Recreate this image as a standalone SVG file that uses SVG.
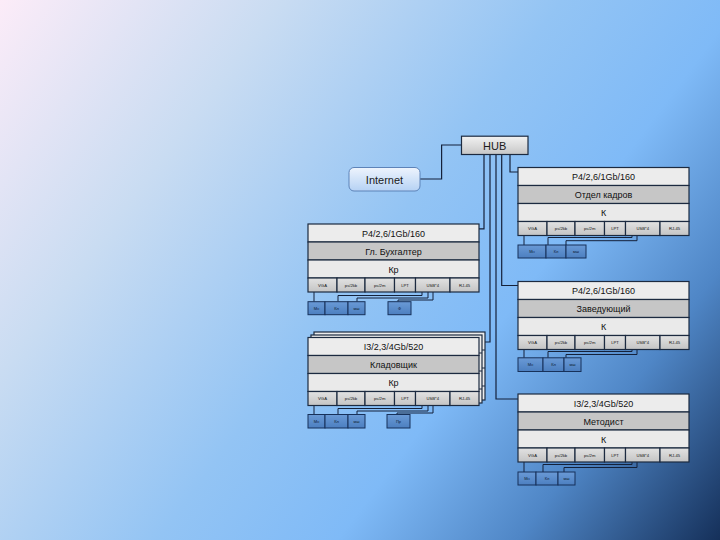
<svg xmlns="http://www.w3.org/2000/svg" width="720" height="540" viewBox="0 0 720 540">
<defs>
<linearGradient id="bg" x1="0" y1="0" x2="720" y2="540" gradientUnits="userSpaceOnUse">
<stop offset="0" stop-color="#fcecf8"/>
<stop offset="0.25" stop-color="#c9dcf2"/>
<stop offset="0.5" stop-color="#93c4f4"/>
<stop offset="0.66" stop-color="#7fbaf7"/>
<stop offset="0.82" stop-color="#4f86c6"/>
<stop offset="1" stop-color="#15305a"/>
</linearGradient>
<linearGradient id="gInet" x1="0" y1="0" x2="0" y2="1">
<stop offset="0" stop-color="#eef4fd"/>
<stop offset="1" stop-color="#b6d2f4"/>
</linearGradient>
<linearGradient id="gHub" x1="0" y1="0" x2="0" y2="1">
<stop offset="0" stop-color="#f2f2f2"/>
<stop offset="1" stop-color="#c6c6c6"/>
</linearGradient>
<linearGradient id="gPort" x1="0" y1="0" x2="0" y2="1">
<stop offset="0" stop-color="#e2e2e2"/>
<stop offset="1" stop-color="#c4c4c4"/>
</linearGradient>
<linearGradient id="gDev" x1="0" y1="0" x2="0" y2="1">
<stop offset="0" stop-color="#6a9ad6"/>
<stop offset="1" stop-color="#4c7fc0"/>
</linearGradient>
</defs>
<style>
.b{stroke:#1c2a40;stroke-width:1.2}
.r1{fill:#ececec}
.r2{fill:#c6c6c6}
.r3{fill:#eaeaea}
.pt{fill:url(#gPort)}
.dv{fill:url(#gDev);stroke:#17315a;stroke-width:1}
.bk{fill:#ececec;stroke:#1c2a40;stroke-width:1.2}
.t{font-family:"Liberation Sans",Arial,sans-serif;font-size:9px;fill:#111;text-anchor:middle}
.tl{font-family:"Liberation Sans",Arial,sans-serif;font-size:11px;fill:#1a1a1a;text-anchor:middle}
.tp{font-family:"Liberation Sans",Arial,sans-serif;font-size:4.2px;fill:#111;text-anchor:middle}
.td{font-family:"Liberation Sans",Arial,sans-serif;font-size:4px;fill:#0b1a30;text-anchor:middle}
.c{fill:none;stroke:#14213a;stroke-width:1.2}
.cs{fill:none;stroke:#14213a;stroke-width:1}
</style>
<rect x="0" y="0" width="720" height="540" fill="url(#bg)"/>

<g id="connectors">
<polyline class="c" points="461.5,145 441.6,145 441.6,179 420,179"/>
<polyline class="c" points="484,154.5 484,228.8 479,228.8"/>
<polyline class="c" points="490,154.5 490,342 485,342"/>
<polyline class="c" points="496,154.5 496,399 518,399"/>
<polyline class="c" points="501.7,154.5 501.7,285.5 518,285.5"/>
<polyline class="c" points="510,154.5 510,172 518,172"/>
<!-- Отдел кадров devices -->
<polyline class="cs" points="524,235.5 524,245"/>
<polyline class="cs" points="632,235.5 632,237.5 548,237.5 548,245"/>
<polyline class="cs" points="637,235.5 637,240.7 566,240.7 566,245"/>
<!-- Гл. Бухгалтер devices -->
<polyline class="cs" points="314,292 314,301.7"/>
<polyline class="cs" points="422,292 422,295.5 338,295.5 338,301.7"/>
<polyline class="cs" points="428,292 428,298 357,298 357,301.7"/>
<polyline class="cs" points="433,292 433,300 398,300 398,301.7"/>
<!-- Кладовщик devices -->
<polyline class="cs" points="314,405.5 314,414.5"/>
<polyline class="cs" points="422,405.5 422,408.5 338,408.5 338,414.5"/>
<polyline class="cs" points="428,405.5 428,411 357,411 357,414.5"/>
<polyline class="cs" points="433,405.5 433,413 397,413 397,414.5"/>
<!-- Заведующий devices -->
<polyline class="cs" points="524,349.5 524,357.8"/>
<polyline class="cs" points="632,349.5 632,351.5 548,351.5 548,357.8"/>
<polyline class="cs" points="637,349.5 637,354.5 566,354.5 566,357.8"/>
<!-- Методист devices -->
<polyline class="cs" points="524,462 524,472"/>
<polyline class="cs" points="632,462 632,464.5 543,464.5 543,472"/>
<polyline class="cs" points="637,462 637,467.5 564,467.5 564,472"/>
</g>

<g id="internet">
<rect x="349" y="167.5" width="71" height="23.5" rx="5" fill="url(#gInet)" stroke="#5d83b8" stroke-width="1"/>
<text class="tl" x="384.5" y="183.5">Internet</text>
</g>

<g id="hub">
<rect class="b" x="461.5" y="136.2" width="66.5" height="18.3" fill="url(#gHub)"/>
<text class="tl" x="494.7" y="149.5">HUB</text>
</g>

<g id="node-otdel-kadrov" transform="translate(518,167.5)">
<rect class="b r1" x="0" y="0" width="171" height="18"/>
<rect class="b r2" x="0" y="18" width="171" height="18"/>
<rect class="b r3" x="0" y="36" width="171" height="18"/>
<rect class="b pt" x="0" y="54" width="29" height="14"/>
<rect class="b pt" x="29" y="54" width="28" height="14"/>
<rect class="b pt" x="57" y="54" width="29.5" height="14"/>
<rect class="b pt" x="86.5" y="54" width="21" height="14"/>
<rect class="b pt" x="107.5" y="54" width="34.5" height="14"/>
<rect class="b pt" x="142" y="54" width="29" height="14"/>
<text class="t" x="85.5" y="12.5">P4/2,6/1Gb/160</text>
<text class="t" x="85.5" y="30.5">Отдел кадров</text>
<text class="t" x="85.5" y="48.5">К</text>
<text class="tp" x="14.5" y="62.5">VGA</text>
<text class="tp" x="43" y="62.5">ps/2kb</text>
<text class="tp" x="71.7" y="62.5">ps/2m</text>
<text class="tp" x="97" y="62.5">LPT</text>
<text class="tp" x="124.7" y="62.5">USB*4</text>
<text class="tp" x="156.5" y="62.5">RJ-45</text>
<rect class="dv" x="0" y="77.5" width="28" height="13"/>
<rect class="dv" x="28" y="77.5" width="20" height="13"/>
<rect class="dv" x="48" y="77.5" width="20" height="13"/>
<text class="td" x="14" y="85.5">Мн</text>
<text class="td" x="38" y="85.5">Кл</text>
<text class="td" x="58" y="85.5">мш</text>
</g>

<g id="node-gl-buhgalter" transform="translate(308,224)">
<rect class="b r1" x="0" y="0" width="171" height="18"/>
<rect class="b r2" x="0" y="18" width="171" height="18"/>
<rect class="b r3" x="0" y="36" width="171" height="18"/>
<rect class="b pt" x="0" y="54" width="29" height="14"/>
<rect class="b pt" x="29" y="54" width="28" height="14"/>
<rect class="b pt" x="57" y="54" width="29.5" height="14"/>
<rect class="b pt" x="86.5" y="54" width="21" height="14"/>
<rect class="b pt" x="107.5" y="54" width="34.5" height="14"/>
<rect class="b pt" x="142" y="54" width="29" height="14"/>
<text class="t" x="85.5" y="12.5">P4/2,6/1Gb/160</text>
<text class="t" x="85.5" y="30.5">Гл. Бухгалтер</text>
<text class="t" x="85.5" y="48.5">Кр</text>
<text class="tp" x="14.5" y="62.5">VGA</text>
<text class="tp" x="43" y="62.5">ps/2kb</text>
<text class="tp" x="71.7" y="62.5">ps/2m</text>
<text class="tp" x="97" y="62.5">LPT</text>
<text class="tp" x="124.7" y="62.5">USB*4</text>
<text class="tp" x="156.5" y="62.5">RJ-45</text>
<rect class="dv" x="0" y="77.7" width="17" height="13"/>
<rect class="dv" x="17" y="77.7" width="23" height="13"/>
<rect class="dv" x="40" y="77.7" width="17" height="13"/>
<rect class="dv" x="80" y="77.7" width="23" height="13"/>
<text class="td" x="8.5" y="85.7">Мн</text>
<text class="td" x="28.5" y="85.7">Кл</text>
<text class="td" x="48.5" y="85.7">мш</text>
<text class="td" x="91.5" y="85.7">Ф</text>
</g>

<g id="node-kladovshik">
<g transform="translate(314,332)">
<rect class="bk" x="0" y="0" width="171" height="68"/>
<line class="b" x1="0" y1="18" x2="171" y2="18"/>
<line class="b" x1="0" y1="36" x2="171" y2="36"/>
<line class="b" x1="0" y1="54" x2="171" y2="54"/>
</g>
<g transform="translate(311,335)">
<rect class="bk" x="0" y="0" width="171" height="68"/>
<line class="b" x1="0" y1="18" x2="171" y2="18"/>
<line class="b" x1="0" y1="36" x2="171" y2="36"/>
<line class="b" x1="0" y1="54" x2="171" y2="54"/>
</g>
<g transform="translate(308,337.5)">
<rect class="b r1" x="0" y="0" width="171" height="18"/>
<rect class="b r2" x="0" y="18" width="171" height="18"/>
<rect class="b r3" x="0" y="36" width="171" height="18"/>
<rect class="b pt" x="0" y="54" width="29" height="14"/>
<rect class="b pt" x="29" y="54" width="28" height="14"/>
<rect class="b pt" x="57" y="54" width="29.5" height="14"/>
<rect class="b pt" x="86.5" y="54" width="21" height="14"/>
<rect class="b pt" x="107.5" y="54" width="34.5" height="14"/>
<rect class="b pt" x="142" y="54" width="29" height="14"/>
<text class="t" x="85.5" y="12.5">I3/2,3/4Gb/520</text>
<text class="t" x="85.5" y="30.5">Кладовщик</text>
<text class="t" x="85.5" y="48.5">Кр</text>
<text class="tp" x="14.5" y="62.5">VGA</text>
<text class="tp" x="43" y="62.5">ps/2kb</text>
<text class="tp" x="71.7" y="62.5">ps/2m</text>
<text class="tp" x="97" y="62.5">LPT</text>
<text class="tp" x="124.7" y="62.5">USB*4</text>
<text class="tp" x="156.5" y="62.5">RJ-45</text>
<rect class="dv" x="0" y="77" width="17" height="13.5"/>
<rect class="dv" x="17" y="77" width="23" height="13.5"/>
<rect class="dv" x="40" y="77" width="17" height="13.5"/>
<rect class="dv" x="79" y="77" width="23" height="13.5"/>
<text class="td" x="8.5" y="85.2">Мн</text>
<text class="td" x="28.5" y="85.2">Кл</text>
<text class="td" x="48.5" y="85.2">мш</text>
<text class="td" x="90.5" y="85.2">Пр</text>
</g>
</g>

<g id="node-zaveduyushiy" transform="translate(518,281.5)">
<rect class="b r1" x="0" y="0" width="171" height="18"/>
<rect class="b r2" x="0" y="18" width="171" height="18"/>
<rect class="b r3" x="0" y="36" width="171" height="18"/>
<rect class="b pt" x="0" y="54" width="29" height="14"/>
<rect class="b pt" x="29" y="54" width="28" height="14"/>
<rect class="b pt" x="57" y="54" width="29.5" height="14"/>
<rect class="b pt" x="86.5" y="54" width="21" height="14"/>
<rect class="b pt" x="107.5" y="54" width="34.5" height="14"/>
<rect class="b pt" x="142" y="54" width="29" height="14"/>
<text class="t" x="85.5" y="12.5">P4/2,6/1Gb/160</text>
<text class="t" x="85.5" y="30.5">Заведующий</text>
<text class="t" x="85.5" y="48.5">К</text>
<text class="tp" x="14.5" y="62.5">VGA</text>
<text class="tp" x="43" y="62.5">ps/2kb</text>
<text class="tp" x="71.7" y="62.5">ps/2m</text>
<text class="tp" x="97" y="62.5">LPT</text>
<text class="tp" x="124.7" y="62.5">USB*4</text>
<text class="tp" x="156.5" y="62.5">RJ-45</text>
<rect class="dv" x="0" y="76.3" width="25" height="13.7"/>
<rect class="dv" x="25" y="76.3" width="21" height="13.7"/>
<rect class="dv" x="46" y="76.3" width="17" height="13.7"/>
<text class="td" x="12.5" y="84.6">Мн</text>
<text class="td" x="35.5" y="84.6">Кл</text>
<text class="td" x="54.5" y="84.6">мш</text>
</g>

<g id="node-metodist" transform="translate(518,394)">
<rect class="b r1" x="0" y="0" width="171" height="18"/>
<rect class="b r2" x="0" y="18" width="171" height="18"/>
<rect class="b r3" x="0" y="36" width="171" height="18"/>
<rect class="b pt" x="0" y="54" width="29" height="14"/>
<rect class="b pt" x="29" y="54" width="28" height="14"/>
<rect class="b pt" x="57" y="54" width="29.5" height="14"/>
<rect class="b pt" x="86.5" y="54" width="21" height="14"/>
<rect class="b pt" x="107.5" y="54" width="34.5" height="14"/>
<rect class="b pt" x="142" y="54" width="29" height="14"/>
<text class="t" x="85.5" y="12.5">I3/2,3/4Gb/520</text>
<text class="t" x="85.5" y="30.5">Методист</text>
<text class="t" x="85.5" y="48.5">К</text>
<text class="tp" x="14.5" y="62.5">VGA</text>
<text class="tp" x="43" y="62.5">ps/2kb</text>
<text class="tp" x="71.7" y="62.5">ps/2m</text>
<text class="tp" x="97" y="62.5">LPT</text>
<text class="tp" x="124.7" y="62.5">USB*4</text>
<text class="tp" x="156.5" y="62.5">RJ-45</text>
<rect class="dv" x="0" y="78" width="18" height="13"/>
<rect class="dv" x="18" y="78" width="22" height="13"/>
<rect class="dv" x="40" y="78" width="17" height="13"/>
<text class="td" x="9" y="86">Мн</text>
<text class="td" x="29" y="86">Кл</text>
<text class="td" x="48.5" y="86">мш</text>
</g>
</svg>
